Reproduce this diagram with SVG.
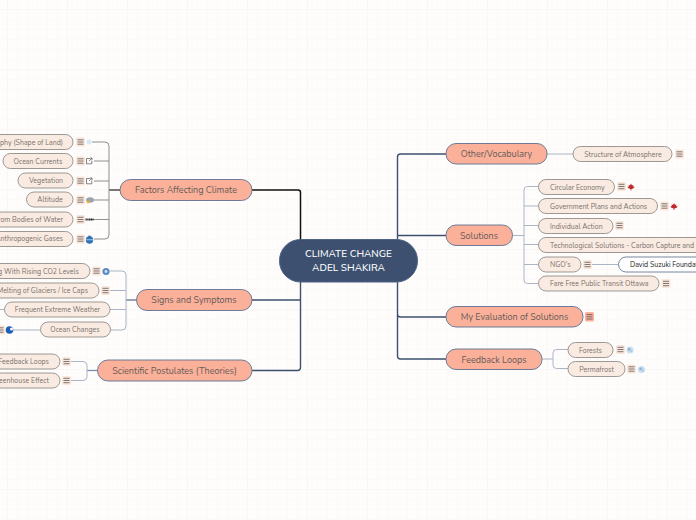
<svg xmlns="http://www.w3.org/2000/svg" width="696" height="520" viewBox="0 0 696 520">
<defs>
<pattern id="grid" width="10" height="10" patternUnits="userSpaceOnUse" patternTransform="translate(7 9)"><path d="M10 0H0V10" fill="none" stroke="#faf8f5" stroke-width="1"/></pattern>
<pattern id="gridMajor" width="60" height="60" patternUnits="userSpaceOnUse" patternTransform="translate(7 9)"><path d="M60 0H0V60" fill="none" stroke="#f6f4f1" stroke-width="1"/></pattern>
<g id="menu"><rect x="-4.500" y="-4.500" width="9" height="9" rx="1.500" fill="#fbe6da"/><path d="M-3-2.200H3M-3 0H3M-3 2.200H3" stroke="#5a5a5a" stroke-width="0.800" fill="none"/></g>
<g id="ext"><path d="M1-2.500H-2.500V2.800H2.800V-0.500M0 0L3-3M1-3H3V-1" stroke="#666" stroke-width="0.800" fill="none"/></g>
<g id="leaf"><path d="M0-3.600L1-1.600L2.400-2.200L2-0.300L3.600-0.400L2.700 1.200L0.400 2V3.400H-0.400V2L-2.700 1.200L-3.600-0.400L-2-0.300L-2.400-2.200L-1-1.600Z" fill="#c0272d"/></g>
<g id="globe"><circle r="3.600" fill="#c9dff0"/><circle cx="-0.800" cy="-0.600" r="1.400" fill="#8cb4d8"/><circle cx="1.400" cy="1.200" r="0.900" fill="#a4c5e0"/></g>
</defs>
<style>
text{font-family:"Nunito","Noto Sans","Lato",sans-serif}
.main{fill:#fbb09a;stroke:#5f7090;stroke-width:0.900}
.sub{fill:#f9ebe2;stroke:#85807c;stroke-width:0.800}
.t1{font-size:9px;fill:#665d58;text-anchor:middle}
.t2{font-size:7px;fill:#7a716b;text-anchor:middle}
.te{font-size:7px;fill:#7a716b;text-anchor:end}
.ts{font-size:7px;fill:#7a716b;text-anchor:start}
.trunk{fill:none;stroke:#3d5070;stroke-width:1.400}
.thin{fill:none;stroke:#aab5c8;stroke-width:1}
.grey{fill:none;stroke:#8f8f8f;stroke-width:1}
</style>
<rect width="696" height="520" fill="#fefdfb"/>
<rect width="696" height="520" fill="url(#grid)"/>
<rect width="696" height="520" fill="url(#gridMajor)"/>
<g id="connectors">
<path d="M252 190H298Q300.500 190 300.500 192.500V240" fill="none" stroke="#111" stroke-width="1.500"/>
<path class="trunk" d="M252 300H300.500V282M252 370.500H297.500Q300.500 370.500 300.500 367.500V282"/>
<path class="trunk" d="M397.500 240V157Q397.500 154 400.500 154H446M397.500 235.500H446M397.500 282V314Q397.500 317 400.500 317H446M397.500 282V356Q397.500 359 400.500 359H446"/>
<path d="M109 190H120" stroke="#222" stroke-width="1.200" fill="none"/>
<path class="grey" d="M92 142H105Q109 142 109 146V235Q109 239 105 239H94M94 161H109M94 181H109M94 200H109M90 219.500H109"/>
<path d="M126 300H136" stroke="#556a8c" stroke-width="1.200" fill="none"/>
<path class="thin" d="M110 271H122Q126 271 126 275V326Q126 330 122 330H110M104 290.500H126M110 309.500H126M12 330H40M0 309.500H4"/>
<path d="M87 370.500H97.500" stroke="#7a8cab" stroke-width="1.200" fill="none"/>
<path class="thin" d="M71 361.500H83Q87 361.500 87 365.500V376.500Q87 380.500 83 380.500H71"/>
<path class="thin" d="M547 154H573M512.500 235.500H524M590 264.500H618.500M542 359H553"/>
<path class="thin" d="M538 186.500H527.500Q524 186.500 524 190V280Q524 283.500 527.500 283.500H538M524 206H538M524 225.500H538M524 244.500H538M524 264.500H538"/>
<path class="thin" d="M568 349.500H556.500Q553 349.500 553 353V365Q553 368.500 556.500 368.500H568"/>
</g>
<g id="center"><rect x="279.500" y="239.500" width="138" height="42.500" rx="21" fill="#3d5070" stroke="#4f6385"/><text x="348.500" y="257" text-anchor="middle" font-size="10" font-weight="500" fill="#fff">CLIMATE CHANGE</text><text x="348.500" y="271" text-anchor="middle" font-size="10" font-weight="500" fill="#fff">ADEL SHAKIRA</text></g>
<g id="factors"><rect class="main" x="120" y="179.500" width="132" height="21" rx="10.500"/><text class="t1" x="186" y="193">Factors Affecting Climate</text></g>
<g id="signs"><rect class="main" x="136.500" y="289.500" width="115.500" height="21" rx="10.500"/><text class="t1" x="194" y="303">Signs and Symptoms</text></g>
<g id="scientific"><rect class="main" x="97.500" y="360" width="154.500" height="21" rx="10.500"/><text class="t1" x="174.500" y="374">Scientific Postulates (Theories)</text></g>
<g id="other"><rect class="main" x="446" y="143.500" width="101" height="20.500" rx="10"/><text class="t1" x="496.500" y="157">Other/Vocabulary</text></g>
<g id="solutions"><rect class="main" x="446" y="225" width="66.500" height="20.500" rx="10"/><text class="t1" x="479" y="238.500">Solutions</text></g>
<g id="evaluation"><rect class="main" x="446" y="306.500" width="137" height="20.500" rx="10"/><text class="t1" x="514.500" y="320">My Evaluation of Solutions</text><rect x="585" y="312" width="9" height="9.500" rx="1.500" fill="#fbb09a"/><path d="M586.500 314.600H592.500M586.500 316.800H592.500M586.500 319H592.500" stroke="#555" stroke-width="0.800"/></g>
<g id="feedback"><rect class="main" x="446" y="349" width="96" height="20.500" rx="10"/><text class="t1" x="494" y="362.500">Feedback Loops</text></g>
<g id="n-topography"><rect class="sub" x="-40" y="134.500" width="113" height="15" rx="7.500"/><text class="te" x="63" y="144.500">Topography (Shape of Land)</text><use href="#menu" x="80.500" y="142"/><circle cx="89" cy="142" r="2.500" fill="#d6e9f7"/></g>
<g id="n-ocean"><rect class="sub" x="3" y="153.500" width="70" height="15" rx="7.500"/><text class="t2" x="38" y="163.500">Ocean Currents</text><use href="#menu" x="80.500" y="161"/><use href="#ext" x="89" y="161"/></g>
<g id="n-vegetation"><rect class="sub" x="18" y="173" width="55" height="15" rx="7.500"/><text class="t2" x="46" y="183">Vegetation</text><use href="#menu" x="80.500" y="181"/><use href="#ext" x="89" y="181"/></g>
<g id="n-altitude"><rect class="sub" x="26.500" y="192" width="46.500" height="15" rx="7.500"/><text class="t2" x="50" y="202">Altitude</text><use href="#menu" x="80.500" y="200"/><ellipse cx="90" cy="200" rx="4" ry="2.800" fill="#9aa4ad"/><circle cx="88" cy="202" r="1.400" fill="#efb32c"/></g>
<g id="n-bodies"><rect class="sub" x="-40" y="212" width="113" height="15" rx="7.500"/><text class="te" x="63" y="222">Distance from Bodies of Water</text><use href="#menu" x="80.500" y="219.500"/><path d="M85.500 219.500H93.500" stroke="#222" stroke-width="2.200" stroke-dasharray="1.300 .5"/></g>
<g id="n-gases"><rect class="sub" x="-40" y="231.500" width="113" height="15" rx="7.500"/><text class="te" x="63" y="241">Anthropogenic Gases</text><use href="#menu" x="80.500" y="239"/><circle cx="89.500" cy="240" r="3.700" fill="#2e74b5"/><circle cx="89.500" cy="236.800" r="1.400" fill="#2e74b5"/><rect x="86" y="239.400" width="7" height="0.800" fill="#fff" opacity=".7"/></g>
<g id="n-co2"><rect class="sub" x="-40" y="263.500" width="130" height="15" rx="7.500"/><text class="te" x="79" y="273.500">Warming With Rising CO2 Levels</text><use href="#menu" x="96.500" y="271"/><circle cx="106" cy="271.500" r="3.600" fill="#5b8bc4"/><circle cx="106" cy="271.500" r="1.400" fill="#d9e5f2"/></g>
<g id="n-glaciers"><rect class="sub" x="-40" y="283" width="139" height="15" rx="7.500"/><text class="te" x="88" y="293">Melting of Glaciers / Ice Caps</text><use href="#menu" x="105.500" y="290.500"/></g>
<g id="n-weather"><rect class="sub" x="4.500" y="302" width="105.500" height="15" rx="7.500"/><text class="t2" x="57.500" y="312">Frequent Extreme Weather</text></g>
<g id="n-oceanchanges"><rect class="sub" x="40.500" y="322" width="70" height="15" rx="7.500"/><text class="t2" x="75" y="332">Ocean Changes</text><circle cx="9.500" cy="330" r="3.800" fill="#1d5fb5"/><circle cx="11.500" cy="329" r="1.500" fill="#fff"/><use href="#menu" x="0.500" y="330"/></g>
<g id="n-feedback"><rect class="sub" x="-40" y="354" width="100" height="15" rx="7.500"/><text class="te" x="49" y="364">Feedback Loops</text><use href="#menu" x="66.500" y="361.500"/></g>
<g id="n-greenhouse"><rect class="sub" x="-40" y="373" width="100" height="15" rx="7.500"/><text class="te" x="49" y="383">Greenhouse Effect</text><use href="#menu" x="66.500" y="380.500"/></g>
<g id="n-structure"><rect class="sub" x="573" y="146.500" width="99" height="15" rx="7.500"/><text class="t2" x="623" y="156.500">Structure of Atmosphere</text><use href="#menu" x="679.500" y="154"/></g>
<g id="n-circular"><rect class="sub" x="538.500" y="179.500" width="76" height="15" rx="7.500"/><text class="ts" x="550" y="189.500">Circular Economy</text><use href="#menu" x="621.500" y="186.500"/><use href="#leaf" x="631" y="187"/></g>
<g id="n-gov"><rect class="sub" x="538.500" y="198.500" width="119" height="15" rx="7.500"/><text class="ts" x="550" y="208.500">Government Plans and Actions</text><use href="#menu" x="664.500" y="206"/><use href="#leaf" x="674" y="206.500"/></g>
<g id="n-individual"><rect class="sub" x="538.500" y="218.500" width="74.500" height="15" rx="7.500"/><text class="ts" x="550" y="228.500">Individual Action</text><use href="#menu" x="619.500" y="225.500"/></g>
<g id="n-tech"><rect class="sub" x="538.500" y="237.500" width="180" height="15" rx="7.500"/><text class="ts" x="550" y="247.500">Technological Solutions - Carbon Capture and Storage</text></g>
<g id="n-ngo"><rect class="sub" x="538.500" y="257" width="42.500" height="15" rx="7.500"/><text class="ts" x="550" y="267">NGO's</text><use href="#menu" x="587.500" y="264.500"/></g>
<g id="n-david"><rect x="618.500" y="257" width="100" height="15" rx="7.500" fill="#fff" stroke="#55688a" stroke-width="0.800"/><text x="630" y="267" font-size="7" fill="#222">David Suzuki Foundation</text></g>
<g id="n-fare"><rect class="sub" x="538.500" y="276" width="120.500" height="15" rx="7.500"/><text class="ts" x="550" y="286">Fare Free Public Transit Ottawa</text><use href="#menu" x="666" y="283.500"/></g>
<g id="n-forests"><rect class="sub" x="568" y="342.500" width="45" height="15" rx="7.500"/><text class="t2" x="590.500" y="352.500">Forests</text><use href="#menu" x="620.500" y="349.500"/><use href="#globe" x="630" y="350"/></g>
<g id="n-permafrost"><rect class="sub" x="568" y="361.500" width="57" height="15" rx="7.500"/><text class="t2" x="596.500" y="371.500">Permafrost</text><use href="#menu" x="631.500" y="369"/><use href="#globe" x="641.500" y="369.500"/></g>
</svg>
